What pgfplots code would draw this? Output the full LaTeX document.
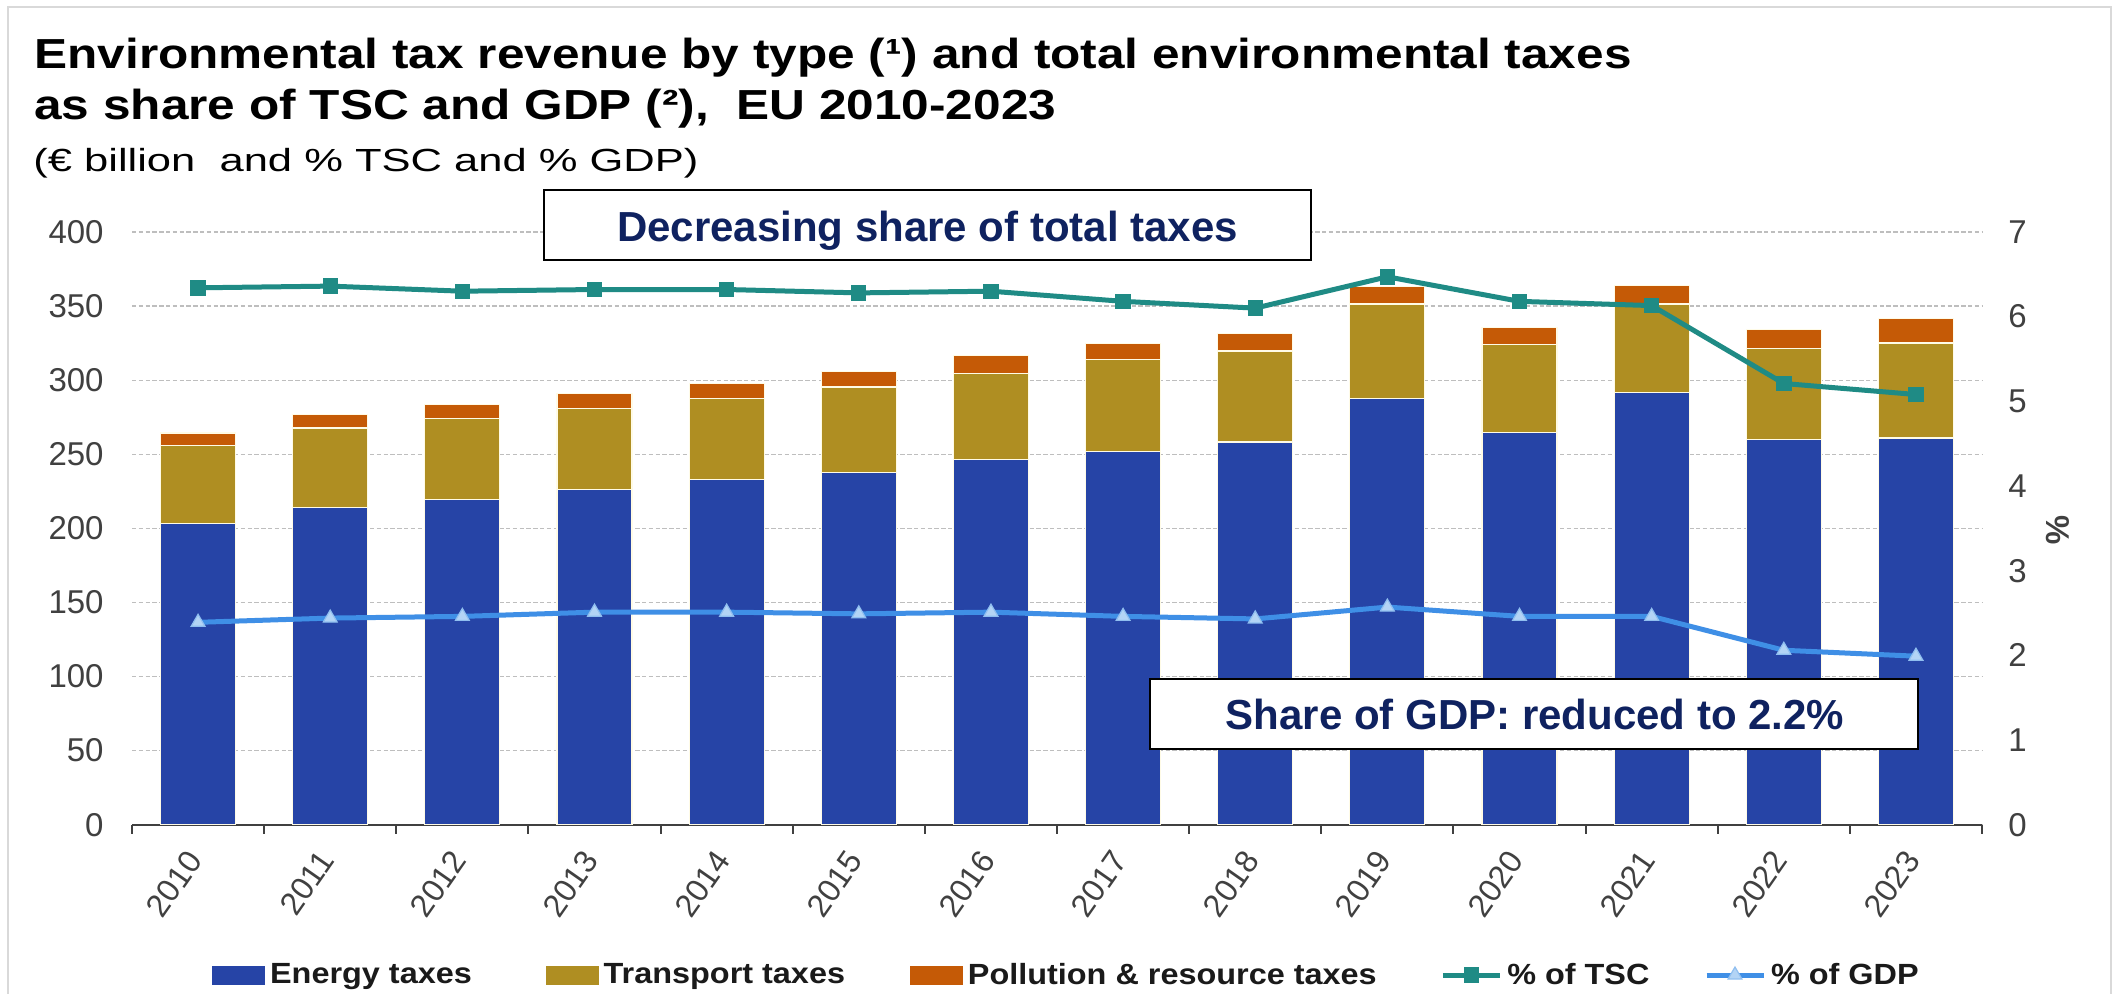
\documentclass[border=0pt]{standalone}
\usepackage{fontspec}
\setmainfont{Liberation Sans}
\newfontfamily\titlefont[FakeStretch=1.18]{Liberation Sans}
\newfontfamily\subfont[FakeStretch=1.36]{Liberation Sans}
\newfontfamily\legfont[FakeStretch=1.11]{Liberation Sans}
\usepackage{pgfplots}
\pgfplotsset{compat=1.18}
\definecolor{cEnergy}{HTML}{2644A6}
\definecolor{cTransport}{HTML}{AF8E22}
\definecolor{cPollution}{HTML}{C55A06}
\definecolor{cTSC}{HTML}{1F8B85}
\definecolor{cGDP}{HTML}{3F8FE6}
\definecolor{cGDPmk}{HTML}{B3D4F5}
\definecolor{cNavy}{HTML}{0F2260}
\definecolor{cTick}{HTML}{404040}
\definecolor{cGrid}{HTML}{BEBEBE}
\definecolor{cFrame}{HTML}{D9D9D9}
\definecolor{cAxis}{HTML}{404040}
\definecolor{cSep}{HTML}{FFFBE6}
\definecolor{cLeg}{HTML}{1A1A1A}
\pgfplotsset{
  mylinelegend/.style={legend image code/.code={\draw[mark repeat=2,mark phase=2,##1] plot coordinates {(0pt,0pt) (14.25pt,0pt) (28.5pt,0pt)};}},
}
\begin{document}
\begin{tikzpicture}[x=1pt,y=1pt]
\useasboundingbox (0,0) rectangle (1056.5,496.5);
\fill[white] (0,0) rectangle (1056.5,496.5);
\draw[cFrame, line width=1pt] (4,-2) -- (4,493) -- (1055.5,493) -- (1055.5,-2);

\begin{axis}[
  at={(66pt,84.15pt)}, anchor=south west,
  scale only axis, width=925pt, height=296.4pt,
  xmin=-0.5, xmax=13.5, ymin=0, ymax=400,
  ybar stacked, bar width=37.5pt,
  axis x line*=bottom, axis y line*=left,
  x axis line style={-, draw=cAxis, line width=1pt},
  y axis line style={draw=none},
  xtick={0,1,...,13},
  xticklabels={2010,2011,2012,2013,2014,2015,2016,2017,2018,2019,2020,2021,2022,2023},
  minor xtick={-0.5,0.5,...,13.5},
  major tick length=0pt, minor tick length=4.5pt,
  tick align=outside,
  major x tick style={draw=none},
  major y tick style={draw=none},
  minor x tick style={draw=cAxis, line width=1pt},
  ytick={0,50,...,400},
  ymajorgrids, grid style={cGrid, dash pattern=on 2.2pt off 1.2pt, line width=0.6pt},
  /pgf/number format/assume math mode=true,
  yticklabel style={font=\fontsize{16.5}{16.5}\selectfont, text=cTick, inner sep=0pt, xshift=-14pt},
  xticklabel style={font=\fontsize{16}{16}\selectfont, text=cTick, xshift=-6.5pt, yshift=-11.5pt, rotate=55, anchor=north east, inner sep=0pt},
]
\addplot[fill=cEnergy, draw=cSep, line width=0.6pt] coordinates {
(0,203.4) (1,214.0) (2,219.6) (3,226.0) (4,232.7) (5,237.8) (6,246.2)
(7,251.7) (8,258.2) (9,287.6) (10,264.9) (11,291.7) (12,259.9) (13,261.0)};
\addplot[fill=cTransport, draw=cSep, line width=0.6pt] coordinates {
(0,52.3) (1,53.7) (2,54.5) (3,55.1) (4,54.9) (5,57.6) (6,58.4)
(7,62.4) (8,61.5) (9,63.7) (10,59.0) (11,59.6) (12,61.2) (13,64.0)};
\addplot[fill=cPollution, draw=cSep, line width=0.6pt] coordinates {
(0,8.6) (1,8.9) (2,9.3) (3,10.1) (4,10.3) (5,10.6) (6,12.0)
(7,10.4) (8,11.8) (9,11.8) (10,11.5) (11,12.3) (12,12.9) (13,16.8)};
\end{axis}

\begin{axis}[
  at={(66pt,84.15pt)}, anchor=south west,
  scale only axis, width=925pt, height=296.4pt,
  xmin=-0.5, xmax=13.5, ymin=0, ymax=7,
  hide x axis,
  axis y line*=right,
  y axis line style={draw=none},
  ytick={0,1,...,7},
  major tick length=0pt,
  major y tick style={draw=none},
  /pgf/number format/assume math mode=true,
  yticklabel style={font=\fontsize{16.5}{16.5}\selectfont, text=cTick, inner sep=0pt, xshift=13pt},
  legend columns=5,
  legend style={at={(0.0432,-0.2536)}, anchor=west, draw=none, fill=none, inner sep=0pt,
    font=\legfont\bfseries\fontsize{14.6}{14.6}\selectfont, text=cLeg,
    nodes={inner sep=0pt},
    /tikz/column sep=0pt,
    /tikz/every odd column/.style={column sep=2.5pt},
    /tikz/column 2/.style={column sep=37pt},
    /tikz/column 4/.style={column sep=32.5pt},
    /tikz/column 6/.style={column sep=31.75pt},
    /tikz/column 8/.style={column sep=27.25pt}},
  legend cell align=left,
]
\addlegendimage{legend image code/.code={\fill[cEnergy] (0pt,-4.5pt) rectangle (26pt,4.5pt);}}
\addlegendentry{Energy taxes}
\addlegendimage{legend image code/.code={\fill[cTransport] (0pt,-4.5pt) rectangle (26pt,4.5pt);}}
\addlegendentry{Transport taxes}
\addlegendimage{legend image code/.code={\fill[cPollution] (0pt,-4.5pt) rectangle (26pt,4.5pt);}}
\addlegendentry{Pollution \& resource taxes}
\addplot[mylinelegend, color=cTSC, line width=2.5pt, mark=square*, mark size=3.6pt,
  mark options={fill=cTSC, draw=cTSC, line width=0.5pt}] coordinates {
(0,6.34) (1,6.36) (2,6.30) (3,6.32) (4,6.32) (5,6.28) (6,6.30)
(7,6.18) (8,6.10) (9,6.47) (10,6.18) (11,6.13) (12,5.21) (13,5.08)};
\addlegendentry{\% of TSC}
\addplot[mylinelegend, color=cGDP, line width=2.5pt, mark=triangle*, mark size=4pt,
  mark options={fill=cGDPmk, draw=cGDPmk!70!cGDP, line width=0.6pt}] coordinates {
(0,2.39) (1,2.44) (2,2.46) (3,2.51) (4,2.51) (5,2.49) (6,2.51)
(7,2.46) (8,2.43) (9,2.57) (10,2.46) (11,2.46) (12,2.06) (13,1.99)};
\addlegendentry{\% of GDP}
\end{axis}

% % label of the right axis
\node[rotate=-90, inner sep=0pt, font=\bfseries\fontsize{16.5}{16.5}\selectfont, text=cTick] at (1029,231.2) {\%};

% title
\node[anchor=base west, inner sep=0pt, font=\titlefont\bfseries\fontsize{21}{21}\selectfont] at (17,462.35) {Environmental tax revenue by type (¹) and total environmental taxes};
\node[anchor=base west, inner sep=0pt, font=\titlefont\bfseries\fontsize{21}{21}\selectfont] at (17,436.5) {as share of TSC and GDP (²),\ \ EU 2010-2023};
\node[anchor=base west, inner sep=0pt, font=\subfont\fontsize{16}{16}\selectfont] at (16.5,410.65) {(€ billion\ \ and \% TSC and \% GDP)};

% annotation boxes
\draw[black, line width=1pt, fill=white] (272.15,366.5) rectangle (655.5,401.5);
\node[anchor=base, inner sep=0pt, font=\bfseries\fontsize{21}{21}\selectfont, text=cNavy] at (463.8,375.65) {Decreasing share of total taxes};
\draw[black, line width=1pt, fill=white] (575.15,121.85) rectangle (958.9,157.05);
\node[anchor=base, inner sep=0pt, font=\bfseries\fontsize{21}{21}\selectfont, text=cNavy] at (767.5,131.6) {Share of GDP: reduced to 2.2\%};
\end{tikzpicture}
\end{document}
